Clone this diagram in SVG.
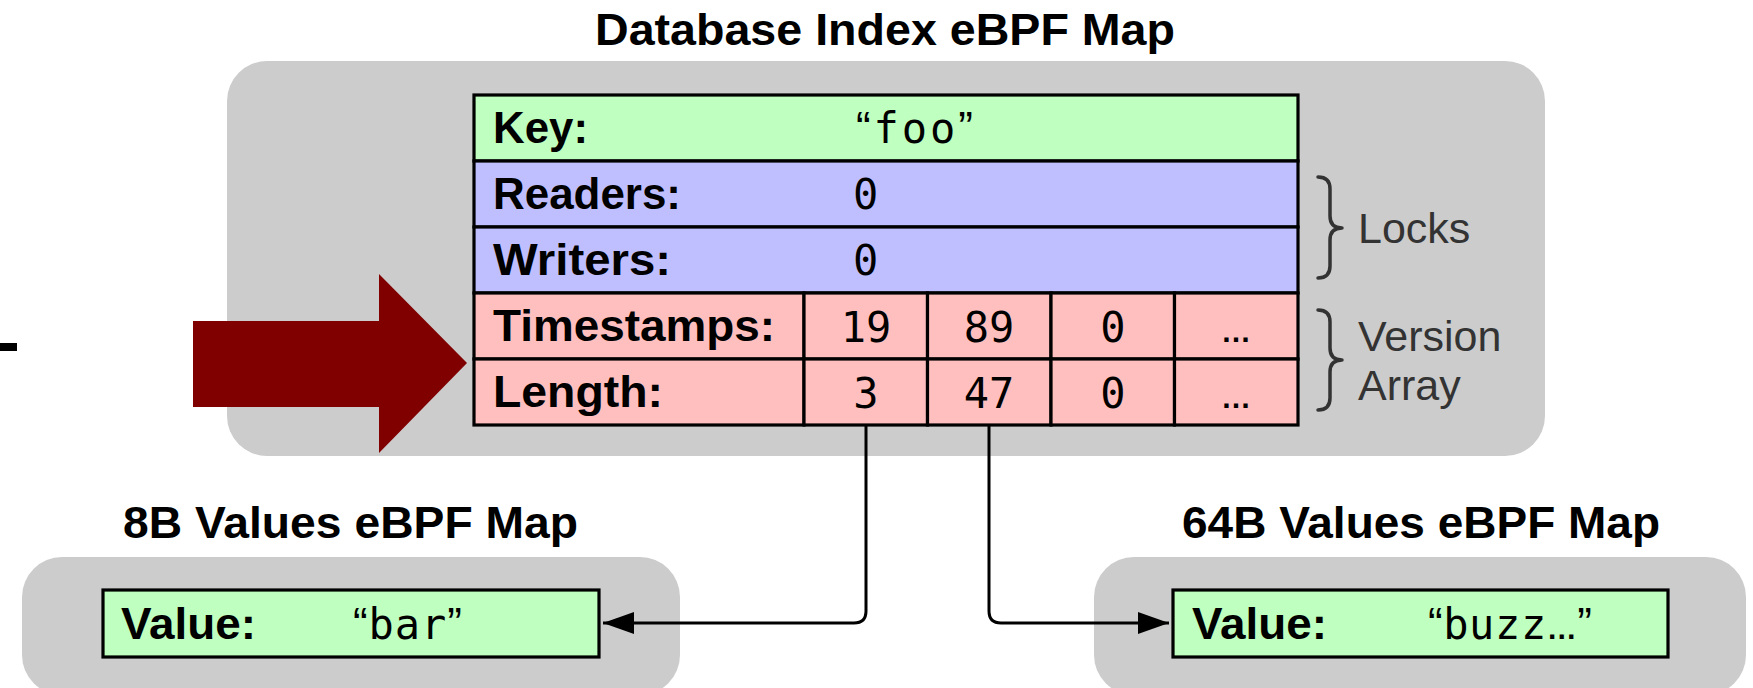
<svg xmlns="http://www.w3.org/2000/svg" width="1753" height="688" viewBox="0 0 1753 688">
<style>
.bg{fill:#cccccc}
.cell{stroke:#000;stroke-width:3.2}
.g{fill:#bfffbf}.b{fill:#bfbfff}.p{fill:#ffbfbf}
.title{font-family:"Liberation Sans",Arial,sans-serif;font-weight:bold;font-size:44px;fill:#000}
.lbl{font-family:"Liberation Sans",Arial,sans-serif;font-weight:bold;font-size:44px;fill:#000}
.mono{font-family:"DejaVu Sans Mono","Liberation Mono",monospace;font-size:42px;fill:#000}
.q{font-family:"Liberation Sans",Arial,sans-serif;font-size:44px}
.ell{font-family:"Liberation Sans",Arial,sans-serif;font-weight:bold;font-size:30px;fill:#000}
.note{font-family:"Liberation Sans",Arial,sans-serif;font-size:43px;fill:#333}
.brace{fill:none;stroke:#333;stroke-width:3.5;stroke-linecap:round;stroke-linejoin:round}
.conn{fill:none;stroke:#000;stroke-width:3}
</style>
<defs>
<marker id="ah" markerUnits="userSpaceOnUse" markerWidth="32" markerHeight="22" refX="31" refY="11" orient="auto">
<path d="M0,0 L31,11 L0,22 Z" fill="#000"/>
</marker>
</defs>

<rect id="dash" x="0" y="343" width="17" height="8" fill="#000"/>

<g id="index-map">
<text class="title" x="595" y="45" textLength="580" lengthAdjust="spacingAndGlyphs">Database Index eBPF Map</text>
<rect class="bg" x="227" y="61" width="1318" height="395" rx="40"/>
</g>

<g id="pointer-arrow">
<polygon points="193,321 379,321 379,274 467,363 379,453 379,407 193,407" fill="#800000"/>
</g>

<g id="key-row">
<rect class="cell g" x="474" y="95" width="824" height="66"/>
<text class="lbl" x="493" y="143" textLength="95" lengthAdjust="spacingAndGlyphs">Key:</text>
<text class="mono" x="856" y="143" textLength="117"><tspan class="q">“</tspan>foo<tspan class="q">”</tspan></text>
</g>

<g id="readers-row">
<rect class="cell b" x="474" y="161" width="824" height="66"/>
<text class="lbl" x="493" y="209" textLength="188" lengthAdjust="spacingAndGlyphs">Readers:</text>
<text class="mono" x="853" y="209">0</text>
</g>

<g id="writers-row">
<rect class="cell b" x="474" y="227" width="824" height="66"/>
<text class="lbl" x="493" y="275" textLength="178" lengthAdjust="spacingAndGlyphs">Writers:</text>
<text class="mono" x="853" y="275">0</text>
</g>

<g id="timestamps-row">
<rect class="cell p" x="474" y="293" width="330" height="66"/>
<rect class="cell p" x="804" y="293" width="123.5" height="66"/>
<rect class="cell p" x="927.5" y="293" width="123.5" height="66"/>
<rect class="cell p" x="1051" y="293" width="123.5" height="66"/>
<rect class="cell p" x="1174.5" y="293" width="123.5" height="66"/>
<text class="lbl" x="493" y="341" textLength="282" lengthAdjust="spacingAndGlyphs">Timestamps:</text>
<text class="mono" x="866" y="342" text-anchor="middle">19</text>
<text class="mono" x="989" y="342" text-anchor="middle">89</text>
<text class="mono" x="1113" y="342" text-anchor="middle">0</text>
<text class="ell" x="1236" y="342" text-anchor="middle">…</text>
</g>

<g id="length-row">
<rect class="cell p" x="474" y="359" width="330" height="66"/>
<rect class="cell p" x="804" y="359" width="123.5" height="66"/>
<rect class="cell p" x="927.5" y="359" width="123.5" height="66"/>
<rect class="cell p" x="1051" y="359" width="123.5" height="66"/>
<rect class="cell p" x="1174.5" y="359" width="123.5" height="66"/>
<text class="lbl" x="493" y="407" textLength="170" lengthAdjust="spacingAndGlyphs">Length:</text>
<text class="mono" x="866" y="408" text-anchor="middle">3</text>
<text class="mono" x="989" y="408" text-anchor="middle">47</text>
<text class="mono" x="1113" y="408" text-anchor="middle">0</text>
<text class="ell" x="1236" y="408" text-anchor="middle">…</text>
</g>

<g id="locks-label">
<path class="brace" d="M1318,177 Q1330,177 1330,189 L1330,216 Q1330,228 1342,228 Q1330,228 1330,240 L1330,266 Q1330,278 1318,278"/>
<text class="note" x="1358" y="243">Locks</text>
</g>

<g id="version-label">
<path class="brace" d="M1318,310 Q1330,310 1330,322 L1330,348 Q1330,360 1342,360 Q1330,360 1330,372 L1330,398 Q1330,410 1318,410"/>
<text class="note" x="1358" y="351">Version</text>
<text class="note" x="1358" y="400">Array</text>
</g>

<g id="values-8b">
<text class="title" x="123" y="538" textLength="455" lengthAdjust="spacingAndGlyphs">8B Values eBPF Map</text>
<rect class="bg" x="22" y="557" width="658" height="138" rx="40"/>
<rect class="cell g" x="103" y="590" width="496" height="67"/>
<text class="lbl" x="121" y="639" textLength="135" lengthAdjust="spacingAndGlyphs">Value:</text>
<text class="mono" x="353" y="639" textLength="109"><tspan class="q">“</tspan>bar<tspan class="q">”</tspan></text>
</g>

<g id="values-64b">
<text class="title" x="1182" y="538" textLength="478" lengthAdjust="spacingAndGlyphs">64B Values eBPF Map</text>
<rect class="bg" x="1094" y="557" width="652" height="138" rx="40"/>
<rect class="cell g" x="1173" y="590" width="495" height="67"/>
<text class="lbl" x="1192" y="639" textLength="135" lengthAdjust="spacingAndGlyphs">Value:</text>
<text class="mono" x="1428" y="639" textLength="164"><tspan class="q">“</tspan>buzz<tspan class="ell">…</tspan><tspan class="q">”</tspan></text>
</g>

<g id="connectors">
<path class="conn" d="M866,425 V611 Q866,623 854,623 H603" marker-end="url(#ah)"/>
<path class="conn" d="M989,425 V611 Q989,623 1001,623 H1169" marker-end="url(#ah)"/>
</g>
</svg>
